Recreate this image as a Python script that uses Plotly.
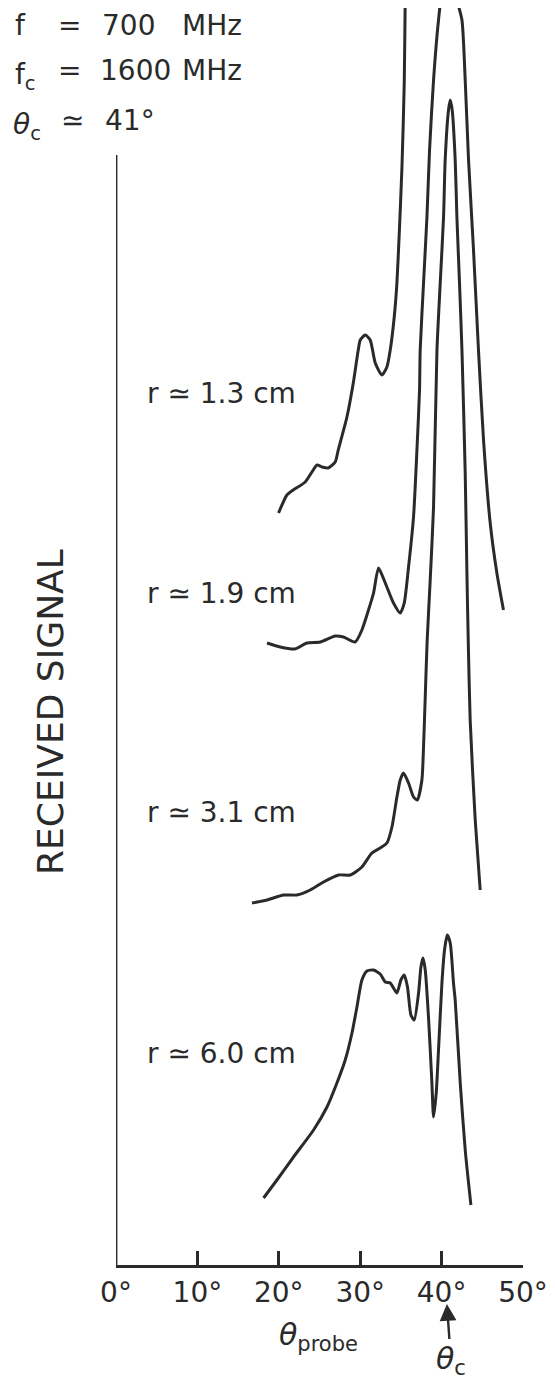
import plotly.graph_objects as go

# ---- data (theta in degrees, received signal in arbitrary units) ----
theta_r13 = [19.97, 21.0, 21.78, 23.25, 24.07, 24.69, 25.30, 26.07, 26.93, 27.30, 28.37, 29.15,
             29.76, 30.01, 30.62, 31.23, 31.85, 32.67, 33.28, 33.69, 34.18, 34.51, 34.80, 35.13,
             35.41, 35.53, 35.65]
sig_r13 = [7.52, 7.70, 7.75, 7.83, 7.93, 8.00, 7.98, 7.97, 8.03, 8.15, 8.48, 8.82,
           9.15, 9.25, 9.30, 9.25, 9.02, 8.90, 8.98, 9.15, 9.48, 9.82, 10.32, 10.98,
           11.82, 12.65, 13.25]

theta_r19 = [18.55, 20.18, 21.97, 23.46, 25.09, 26.93, 27.95, 29.39, 30.21, 31.02, 31.64, 32.25,
             33.08, 34.09, 34.92, 35.41, 35.94, 36.55, 36.97, 37.29, 37.37, 37.78, 38.20, 38.52,
             39.01, 39.62, 40.09, 40.81, 41.55, 41.88, 42.50, 42.90, 43.31, 43.92, 44.53, 45.15,
             45.97, 46.79, 47.60]
sig_r19 = [6.22, 6.18, 6.16, 6.22, 6.23, 6.29, 6.28, 6.23, 6.35, 6.55, 6.72, 6.97,
           6.82, 6.62, 6.52, 6.62, 6.98, 7.48, 8.15, 8.75, 9.15, 9.82, 10.48, 11.15,
           11.85, 12.45, 12.75, 12.87, 12.75, 12.65, 12.45, 11.85, 11.05, 10.15, 9.15, 8.25,
           7.42, 6.92, 6.55]

theta_r31 = [16.70, 18.55, 20.58, 22.23, 23.86, 25.50, 27.34, 28.78, 30.21, 31.44, 32.46, 33.28,
             33.90, 34.51, 34.92, 35.32, 35.94, 36.55, 37.01, 37.58, 37.78, 37.99, 38.23, 38.60,
             39.01, 39.43, 39.83, 40.24, 40.44, 40.85, 41.06, 41.30, 41.67, 41.88, 42.20, 42.50,
             42.90, 43.11, 43.27, 43.51, 44.13, 44.74]
sig_r31 = [3.62, 3.65, 3.70, 3.70, 3.75, 3.83, 3.90, 3.90, 3.98, 4.12, 4.17, 4.22,
           4.38, 4.68, 4.85, 4.92, 4.82, 4.68, 4.65, 4.85, 5.18, 5.68, 6.25, 6.85,
           7.58, 9.15, 9.82, 10.48, 11.05, 11.55, 11.65, 11.55, 11.05, 10.48, 9.82, 9.15,
           7.92, 6.92, 6.25, 5.45, 4.45, 3.75]

theta_r60 = [18.13, 19.77, 21.81, 24.27, 25.92, 27.14, 28.16, 28.99, 29.60, 30.21, 30.83, 31.64,
             32.46, 33.08, 33.69, 34.51, 35.00, 35.41, 35.81, 36.23, 36.64, 37.17, 37.46, 37.71,
             37.99, 38.39, 38.81, 39.01, 39.34, 39.62, 40.04, 40.36, 40.69, 41.06, 41.46, 41.67,
             42.29, 42.90, 43.60]
sig_r60 = [0.67, 0.85, 1.08, 1.35, 1.58, 1.82, 2.05, 2.32, 2.58, 2.85, 2.94, 2.95,
           2.91, 2.83, 2.82, 2.72, 2.85, 2.90, 2.78, 2.50, 2.45, 2.72, 2.98, 3.07,
           2.95, 2.48, 1.82, 1.48, 1.72, 2.15, 2.82, 3.15, 3.30, 3.22, 2.82, 2.65,
           1.82, 1.15, 0.60]

curve_labels = ["r ≃ 1.3 cm", "r ≃ 1.9 cm", "r ≃ 3.1 cm", "r ≃ 6.0 cm"]
tick_vals = [0, 10, 20, 30, 40, 50]
tick_text = ["0°", "10°", "20°", "30°", "40°", "50°"]
theta_c = 40.65

# ---- layout geometry (page has an 8px body margin) ----
OFF = 8
W, H = 555 - OFF, 1379 - OFF
X0_REF, X50_REF, AX_REF = 116, 523, 1265      # reference pixels: 0 deg, 50 deg, x-axis line
ML = X0_REF - OFF
MR = W - (X50_REF - OFF)
MT = 0
MB = H - (AX_REF - OFF)
PW, PH = W - ML - MR, H - MT - MB
YTOP = PH / 100.0                             # 100 px per signal unit


def px(xr):
    return (xr - X0_REF) / PW


def py(yr):
    return (AX_REF - yr) / PH


INK = "#2a2a2a"
FONT = "DejaVu Sans"

fig = go.Figure()
for th, sg in [(theta_r13, sig_r13), (theta_r19, sig_r19), (theta_r31, sig_r31), (theta_r60, sig_r60)]:
    fig.add_trace(go.Scatter(x=th, y=sg, mode="lines",
                             line=dict(color=INK, width=3, shape="spline", smoothing=0.6),
                             showlegend=False, hoverinfo="skip"))

# vertical axis line (starts below the header)
fig.add_shape(type="line", xref="x", yref="y", x0=0, x1=0, y0=0, y1=11.1,
              line=dict(color=INK, width=2.8))

ann = []


def txt(text, x, y, size=28, xanchor="left", yanchor="middle", angle=0):
    ann.append(dict(text=text, x=px(x), y=py(y), xref="paper", yref="paper",
                    xanchor=xanchor, yanchor=yanchor, showarrow=False, textangle=angle,
                    font=dict(family=FONT, size=size, color=INK)))


# header
txt("f", 13, 26)
txt("=", 69, 26, xanchor="center")
txt("700", 100, 26)
txt("MHz", 180, 26)
txt("f<sub>c</sub>", 13, 76)
txt("=", 69, 70, xanchor="center")
txt("1600", 98, 70)
txt("MHz", 180, 70)
txt("<i>θ</i><sub>c</sub>", 11, 127)
txt("≃", 72, 121, xanchor="center")
txt("41°", 103, 121)

# curve labels
for lab, yy in zip(curve_labels, [393, 593, 812, 1053]):
    txt(lab, 145, yy)

# axis titles
txt("RECEIVED SIGNAL", 50, 712, size=36, xanchor="center", angle=-90)
txt("<i>θ</i><sub>probe</sub>", 318, 1336, size=30, xanchor="center")

# theta_c arrow
ann.append(dict(text="<i>θ</i><sub>c</sub>", x=theta_c, xref="x", y=py(1304), yref="paper",
                showarrow=True, ax=4, ay=56, arrowhead=2, arrowsize=1.4, arrowwidth=2.4,
                arrowcolor=INK, standoff=0, font=dict(family=FONT, size=30, color=INK)))

fig.update_layout(
    width=W, height=H,
    margin=dict(l=ML, r=MR, t=MT, b=MB),
    paper_bgcolor="white", plot_bgcolor="white",
    annotations=ann,
    xaxis=dict(range=[0, 50], showgrid=False, zeroline=False, showline=True,
               linecolor=INK, linewidth=2.8, ticks="inside", ticklen=14, tickwidth=2.8,
               tickcolor=INK, tickvals=tick_vals, ticktext=tick_text,
               tickfont=dict(family=FONT, size=28, color=INK)),
    yaxis=dict(range=[0, YTOP], showgrid=False, zeroline=False, showline=False,
               showticklabels=False, ticks=""),
)

fig.write_html("out.html")
